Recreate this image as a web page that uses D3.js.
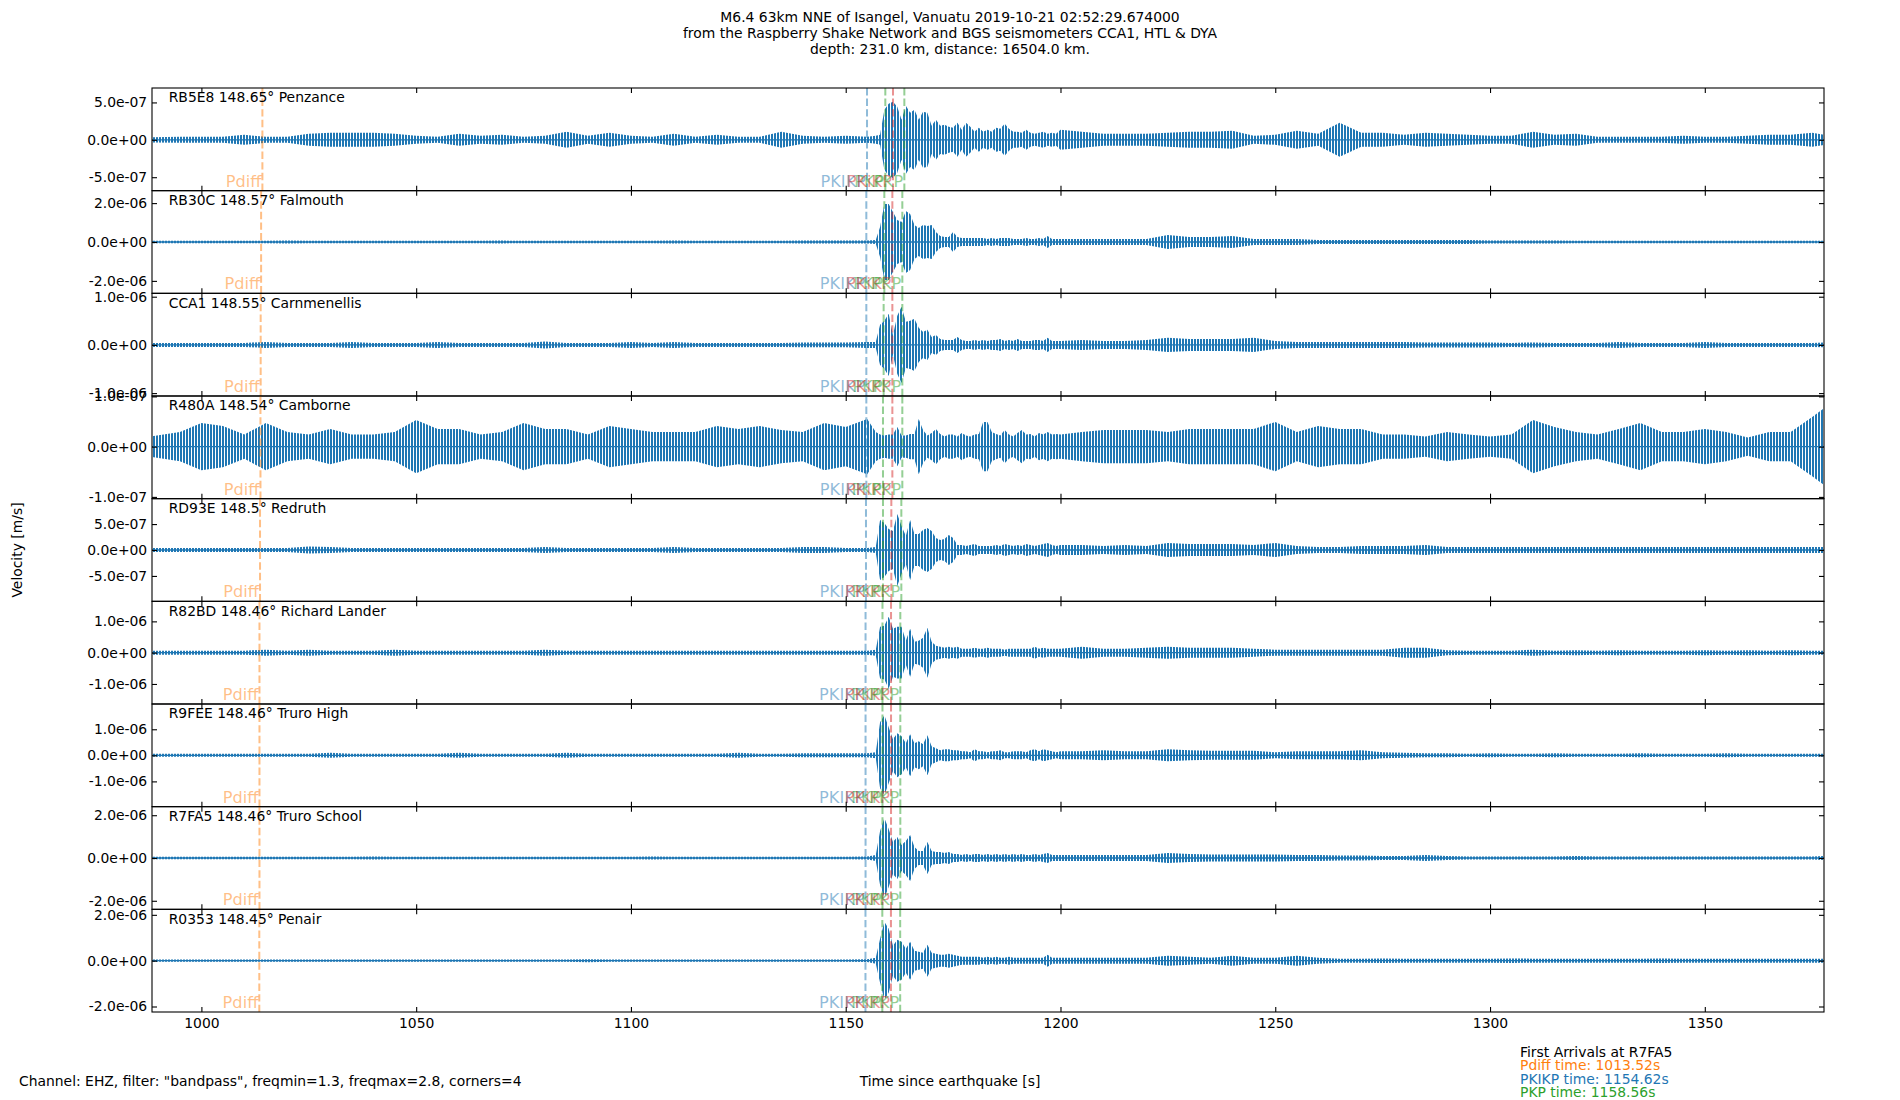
<!DOCTYPE html>
<html lang="en">
<head>
<meta charset="UTF-8">
<title>Seismograms - M6.4 Vanuatu</title>
<script src="https://d3js.org/d3.v7.min.js"></script>
<style>
  body { margin: 0; background: #fff; }
  svg text { font-family: "DejaVu Sans", sans-serif; }
</style>
</head>
<body>
<svg id="chart" width="1900" height="1100"></svg>
<script>
// ---- data ----
const titleLines = [
  "M6.4 63km NNE of Isangel, Vanuatu 2019-10-21 02:52:29.674000",
  "from the Raspberry Shake Network and BGS seismometers CCA1, HTL & DYA",
  "depth: 231.0 km, distance: 16504.0 km."
];
const stationIds = ["RB5E8", "RB30C", "CCA1", "R480A", "RD93E", "R82BD", "R9FEE", "R7FA5", "R0353"];
const stationDist = [148.65, 148.57, 148.55, 148.54, 148.5, 148.46, 148.46, 148.46, 148.45];
const stationPlace = ["Penzance", "Falmouth", "Carnmenellis", "Camborne", "Redruth", "Richard Lander", "Truro High", "Truro School", "Penair"];

// y limits (m/s) and tick values per station
const yLimits = [
  [-6.8e-7, 6.93e-7], [-2.64e-6, 2.64e-6], [-1.06e-6, 1.07e-6], [-1.035e-7, 1.008e-7], [-9.9e-7, 9.9e-7],
  [-1.64e-6, 1.64e-6], [-1.97e-6, 1.97e-6], [-2.4e-6, 2.4e-6], [-2.24e-6, 2.24e-6]
];
const yTickValues = [
  [-5e-7, 0, 5e-7], [-2e-6, 0, 2e-6], [-1e-6, 0, 1e-6], [-1e-7, 0, 1e-7], [-5e-7, 0, 5e-7],
  [-1e-6, 0, 1e-6], [-1e-6, 0, 1e-6], [-2e-6, 0, 2e-6], [-2e-6, 0, 2e-6]
];
const timeRange = [988.5, 1377.75];
const timeTicks = [1000, 1050, 1100, 1150, 1200, 1250, 1300, 1350];

// predicted arrivals (s) per station
const phaseNames = ["Pdiff", "PKIKP", "PKP", "PKiKP", "PKP"];
const phaseColors = ["#ff7f0e", "#1f77b4", "#2ca02c", "#d62728", "#2ca02c"];
const arrPdiff = [1014.2, 1013.9, 1013.8, 1013.75, 1013.65, 1013.52, 1013.52, 1013.52, 1013.48];
const arrPKIKP = [1154.96, 1154.8, 1154.8, 1154.8, 1154.72, 1154.62, 1154.62, 1154.62, 1154.6];
const arrPKP = [1159.22, 1158.99, 1158.83, 1158.68, 1158.68, 1158.56, 1158.56, 1158.56, 1158.52];
const arrPKiKP = [1161.01, 1160.86, 1160.86, 1160.86, 1160.62, 1160.55, 1160.55, 1160.55, 1160.53];
const arrPKP2 = [1163.65, 1163.18, 1163.18, 1163.18, 1162.95, 1162.71, 1162.71, 1162.71, 1162.68];

const firstArrivalStation = "R7FA5";
const firstArrivalPhases = ["Pdiff", "PKIKP", "PKP"];
const firstArrivalTimes = [1013.52, 1154.62, 1158.56];
const firstArrivalColors = ["#ff7f0e", "#1f77b4", "#2ca02c"];

const footerText = 'Channel: EHZ, filter: "bandpass", freqmin=1.3, freqmax=2.8, corners=4';

// trace envelopes: half peak-to-peak amplitude in nm/s at these times (s)
const envTimes = [
  988, 995, 1000, 1005, 1010, 1015, 1020, 1025, 1030, 1035, 1040, 1045, 1050, 1055, 1060, 1065, 1070,
  1075, 1080, 1085, 1090, 1095, 1100, 1105, 1110, 1115, 1120, 1125, 1130, 1135, 1140, 1145, 1150, 1155,
  1157, 1158, 1159, 1160, 1161, 1162, 1163, 1164, 1165, 1166, 1167, 1168, 1169, 1170, 1171, 1172, 1173,
  1174, 1175, 1176, 1177, 1178, 1179, 1180, 1181, 1182, 1183, 1184, 1185, 1186, 1187, 1188, 1189, 1190,
  1191, 1192, 1193, 1194, 1195, 1196, 1197, 1198, 1199, 1200,
  1205, 1210, 1215, 1220, 1225, 1230, 1235, 1240, 1245, 1250, 1255, 1260, 1265, 1270, 1275, 1280, 1285,
  1290, 1295, 1300, 1305, 1310, 1315, 1320, 1325, 1330, 1335, 1340, 1345, 1350, 1355, 1360, 1365, 1370,
  1375, 1378
];
const envRB5E8 = [
  34, 40, 40, 40, 67, 40, 40, 80, 94, 94, 94, 80, 54, 40, 80, 54, 67, 40, 54, 107, 54, 94, 54, 40, 80, 40, 67, 40, 40, 107, 54, 40, 54, 40,
  54, 67, 402, 482, 509, 442, 268, 456, 362, 402, 268, 375, 362, 188, 268, 188, 201, 174, 161, 228, 134, 228, 174, 107, 161, 107, 134, 107,
  161, 147, 214, 147, 107, 107, 94, 134, 94, 80, 94, 107, 80, 94, 80, 134,
  107, 80, 80, 80, 94, 107, 107, 121, 54, 67, 121, 80, 228, 94, 94, 67, 94, 80, 67, 54, 54, 107, 67, 80, 40, 40, 40, 40, 54, 40, 40, 54, 67, 67, 94, 67
];
const envRB30C = [
  62, 62, 62, 62, 62, 62, 72, 62, 62, 62, 62, 62, 62, 62, 62, 62, 72, 62, 62, 62, 62, 62, 62, 62, 72, 62, 62, 62, 62, 62, 77, 77, 77, 77,
  103, 771, 1953, 1953, 1542, 1131, 1028, 1593, 1439, 874, 720, 874, 822, 874, 514, 308, 257, 257, 514, 257, 206, 206, 206, 206, 206, 206,
  154, 206, 154, 206, 206, 206, 154, 154, 154, 206, 154, 154, 206, 154, 308, 154, 154, 154,
  154, 154, 154, 154, 360, 257, 257, 308, 154, 154, 154, 103, 103, 103, 103, 103, 103, 103, 103, 77, 77, 77, 77, 62, 62, 62, 62, 62, 62, 62, 62, 62, 62, 62, 62, 62
];
const envCCA1 = [
  42, 42, 42, 42, 42, 62, 42, 42, 42, 62, 42, 42, 42, 62, 42, 42, 42, 42, 73, 42, 42, 42, 62, 42, 62, 42, 42, 42, 42, 42, 48, 48, 48, 62,
  62, 416, 499, 645, 208, 603, 790, 478, 499, 541, 354, 270, 312, 166, 208, 125, 104, 104, 104, 166, 104, 83, 83, 104, 83, 104, 83, 104,
  104, 125, 83, 104, 83, 125, 83, 83, 83, 104, 104, 83, 146, 83, 83, 83,
  104, 83, 83, 104, 146, 125, 125, 125, 146, 83, 62, 62, 62, 62, 62, 62, 52, 52, 52, 52, 42, 52, 42, 42, 42, 62, 42, 42, 42, 62, 42, 42, 42, 42, 42, 52
];
const envR480A = [
  20, 29, 47, 41, 24, 47, 29, 24, 35, 24, 24, 29, 53, 35, 35, 24, 29, 47, 35, 35, 24, 41, 35, 29, 29, 29, 41, 35, 41, 33, 29, 47, 39, 55,
  29, 24, 22, 24, 24, 39, 22, 22, 25, 25, 55, 33, 22, 27, 35, 25, 20, 24, 24, 20, 27, 22, 20, 24, 25, 49, 49, 29, 25, 22, 33, 24, 20, 27,
  33, 24, 25, 20, 27, 24, 29, 24, 25, 24,
  29, 33, 33, 33, 29, 35, 35, 35, 35, 49, 29, 41, 35, 35, 24, 24, 20, 29, 24, 20, 24, 53, 39, 29, 24, 35, 47, 29, 29, 35, 29, 18, 29, 29, 59, 78
];
const envRD93E = [
  39, 39, 39, 39, 39, 39, 39, 68, 58, 39, 39, 39, 39, 39, 39, 39, 39, 39, 58, 39, 39, 39, 39, 39, 58, 39, 39, 39, 39, 39, 58, 58, 39, 39,
  58, 579, 521, 405, 367, 695, 463, 270, 579, 309, 309, 386, 425, 367, 232, 193, 212, 290, 232, 97, 97, 77, 97, 116, 77, 77, 77, 77,
  97, 77, 116, 97, 77, 97, 77, 116, 97, 77, 97, 116, 135, 97, 77, 97,
  97, 77, 97, 77, 135, 116, 116, 116, 97, 135, 77, 58, 58, 77, 77, 77, 97, 58, 58, 58, 58, 58, 58, 58, 58, 58, 58, 58, 58, 58, 58, 58, 58, 58, 58, 58
];
const envR82BD = [
  64, 64, 64, 64, 64, 96, 64, 96, 64, 64, 64, 96, 64, 64, 64, 64, 64, 64, 96, 64, 64, 64, 64, 64, 64, 64, 64, 64, 64, 64, 64, 64, 64, 64,
  96, 829, 861, 1148, 766, 829, 829, 383, 766, 351, 383, 479, 798, 351, 223, 191, 160, 191, 160, 191, 128, 128, 128, 160, 128, 128, 160, 128,
  128, 128, 96, 128, 128, 128, 128, 128, 128, 191, 128, 160, 128, 128, 128, 128,
  191, 128, 128, 160, 191, 160, 160, 160, 128, 96, 96, 96, 96, 96, 96, 160, 160, 80, 64, 64, 64, 96, 64, 80, 64, 80, 64, 64, 64, 80, 64, 80, 64, 80, 64, 64
];
const envR9FEE = [
  58, 58, 58, 58, 58, 58, 58, 58, 96, 58, 58, 58, 58, 58, 96, 58, 58, 58, 58, 96, 58, 58, 58, 58, 58, 58, 58, 96, 58, 58, 77, 77, 77, 77,
  115, 1267, 1536, 1075, 614, 845, 730, 461, 806, 461, 538, 422, 768, 346, 269, 192, 230, 230, 192, 192, 154, 154, 115, 230, 154, 154, 115, 154,
  154, 192, 115, 115, 154, 154, 154, 115, 192, 230, 154, 230, 192, 154, 115, 154,
  154, 192, 154, 154, 230, 192, 173, 173, 173, 115, 154, 154, 154, 192, 115, 96, 77, 77, 58, 77, 58, 58, 77, 58, 58, 58, 77, 58, 58, 58, 77, 58, 58, 58, 58, 58
];
const envR7FA5 = [
  56, 56, 56, 56, 56, 56, 56, 56, 56, 56, 75, 56, 56, 56, 56, 56, 56, 56, 56, 56, 56, 56, 56, 75, 56, 56, 56, 56, 56, 56, 56, 56, 56, 65,
  140, 1261, 1868, 1354, 747, 981, 607, 794, 1074, 514, 327, 327, 747, 327, 280, 280, 234, 280, 187, 187, 140, 187, 140, 187, 187, 140, 187, 140,
  187, 140, 187, 140, 187, 140, 187, 140, 140, 187, 140, 187, 234, 140, 140, 140,
  140, 140, 140, 140, 234, 187, 163, 163, 163, 163, 140, 140, 117, 117, 93, 93, 140, 93, 70, 70, 75, 70, 70, 93, 70, 70, 70, 75, 70, 70, 70, 70, 75, 70, 70, 93
];
const envR0353 = [
  52, 52, 52, 52, 52, 52, 52, 52, 52, 52, 52, 52, 52, 52, 52, 52, 52, 52, 52, 52, 65, 52, 52, 52, 52, 52, 52, 52, 52, 52, 52, 52, 52, 60,
  131, 959, 1700, 1395, 654, 916, 828, 523, 828, 436, 392, 349, 698, 349, 305, 262, 262, 305, 262, 218, 174, 174, 174, 174, 174, 131, 174, 131,
  174, 131, 131, 174, 131, 131, 131, 131, 131, 131, 131, 131, 262, 131, 131, 131,
  131, 131, 131, 131, 218, 174, 131, 218, 131, 131, 218, 131, 87, 87, 100, 87, 87, 87, 87, 87, 100, 87, 87, 87, 87, 87, 87, 100, 87, 87, 87, 87, 87, 87, 87, 87
];
const envelopes = [envRB5E8, envRB30C, envCCA1, envR480A, envRD93E, envR82BD, envR9FEE, envR7FA5, envR0353];
const phaseArrivals = [arrPdiff, arrPKIKP, arrPKP, arrPKiKP, arrPKP2];

// ---- layout ----
const W = 1900, H = 1100;
const plotLeft = 152, plotRight = 1824, plotTop = 88, plotBottom = 1012;
const traceColor = "#1f77b4";
const fontSize = 13.9;
const panelH = (plotBottom - plotTop) / stationIds.length;
const nm = 1e-9;

const svg = d3.select("#chart");

// dense oscillation look: vertical strokes filling the envelope
const pat = svg.append("defs").append("pattern")
  .attr("id", "wiggle")
  .attr("patternUnits", "userSpaceOnUse")
  .attr("width", 3).attr("height", 20);
pat.append("rect").attr("width", 2).attr("height", 20).attr("fill", traceColor);

// matplotlib style "%.1e"
function sciFormat(v) {
  const parts = v.toExponential(1).split("e");
  const e = +parts[1];
  return parts[0] + "e" + (e < 0 ? "-" : "+") + String(Math.abs(e)).padStart(2, "0");
}

const x = d3.scaleLinear().domain(timeRange).range([plotLeft, plotRight]);

// title
svg.append("g").selectAll("text")
  .data(titleLines)
  .join("text")
  .attr("x", W / 2)
  .attr("y", (d, i) => 22 + i * 16)
  .attr("text-anchor", "middle")
  .attr("font-size", fontSize)
  .text(d => d);

stationIds.forEach((id, i) => {
  const py = plotTop + i * panelH;
  const y = d3.scaleLinear().domain(yLimits[i]).range([py + panelH, py]);
  const g = svg.append("g").attr("class", "panel");

  if (envelopes[i].length !== envTimes.length) console.error("length mismatch", id);

  svg.append("clipPath").attr("id", "clip" + i)
    .append("rect")
    .attr("x", plotLeft).attr("y", py)
    .attr("width", plotRight - plotLeft).attr("height", panelH);

  const rows = envTimes.map((t, k) => ({ t: t, a: envelopes[i][k] * nm }));
  const area = d3.area()
    .x(d => x(d.t))
    .y0(d => y(-d.a))
    .y1(d => y(d.a));
  const baseline = d3.line()
    .x(d => x(d.t))
    .y(() => y(0));

  const trace = g.append("g").attr("clip-path", "url(#clip" + i + ")");
  trace.append("path")
    .datum(rows)
    .attr("d", area)
    .attr("fill", "url(#wiggle)");
  trace.append("path")
    .datum(rows)
    .attr("d", baseline)
    .attr("fill", "none")
    .attr("stroke", traceColor)
    .attr("stroke-width", 1.3);

  // arrival lines + labels
  phaseArrivals.forEach((arr, p) => {
    const px = x(arr[i]);
    g.append("line")
      .attr("x1", px).attr("x2", px)
      .attr("y1", py).attr("y2", py + panelH)
      .attr("stroke", phaseColors[p])
      .attr("stroke-opacity", 0.5)
      .attr("stroke-width", 2)
      .attr("stroke-dasharray", "7.4,3.2");
    g.append("text")
      .attr("x", px - 1)
      .attr("y", py + panelH - 4)
      .attr("text-anchor", "end")
      .attr("font-size", 16.2)
      .attr("fill", phaseColors[p])
      .attr("fill-opacity", 0.5)
      .text(phaseNames[p]);
  });

  // station label
  g.append("text")
    .attr("x", plotLeft + 0.01 * (plotRight - plotLeft))
    .attr("y", py + 14.4)
    .attr("font-size", fontSize)
    .text(id + " " + stationDist[i] + "\u00b0 " + stationPlace[i]);

  // axes (ticks pointing inward)
  const yLeft = g.append("g")
    .attr("transform", "translate(" + plotLeft + ",0)")
    .call(d3.axisLeft(y).tickValues(yTickValues[i]).tickSizeInner(-5).tickSizeOuter(0)
      .tickPadding(4.8).tickFormat(sciFormat));
  const yRight = g.append("g")
    .attr("transform", "translate(" + plotRight + ",0)")
    .call(d3.axisRight(y).tickValues(yTickValues[i]).tickSizeInner(-5).tickSizeOuter(0).tickFormat(""));
  const xTop = g.append("g")
    .attr("transform", "translate(0," + py + ")")
    .call(d3.axisTop(x).tickValues(timeTicks).tickSizeInner(-5).tickSizeOuter(0).tickFormat(""));
  const xBottom = g.append("g")
    .attr("transform", "translate(0," + (py + panelH) + ")")
    .call(d3.axisBottom(x).tickValues(timeTicks).tickSizeInner(-5).tickSizeOuter(0)
      .tickPadding(6.5).tickFormat(i === stationIds.length - 1 ? d3.format("d") : ""));

  [yLeft, yRight, xTop, xBottom].forEach(a => {
    a.select(".domain").remove();
    a.attr("font-size", fontSize).attr("font-family", "DejaVu Sans");
    a.selectAll(".tick line").attr("stroke-width", 1.1);
  });

  // frame
  g.append("rect")
    .attr("x", plotLeft).attr("y", py)
    .attr("width", plotRight - plotLeft).attr("height", panelH)
    .attr("fill", "none")
    .attr("stroke", "#000")
    .attr("stroke-width", 1.1);
});

// y label
svg.append("text")
  .attr("transform", "translate(17," + ((plotTop + plotBottom) / 2) + ") rotate(-90)")
  .attr("text-anchor", "middle")
  .attr("dominant-baseline", "central")
  .attr("font-size", fontSize)
  .text("Velocity [m/s]");

// x label and filter note
svg.append("text")
  .attr("x", W / 2).attr("y", 1086)
  .attr("text-anchor", "middle")
  .attr("font-size", fontSize)
  .text("Time since earthquake [s]");
svg.append("text")
  .attr("x", 19).attr("y", 1086)
  .attr("font-size", fontSize)
  .text(footerText);

// first arrivals note
const note = svg.append("g").attr("font-size", fontSize);
note.append("text")
  .attr("x", 1520).attr("y", 1056.5)
  .text("First Arrivals at " + firstArrivalStation);
note.selectAll("text.arr")
  .data(firstArrivalPhases)
  .join("text")
  .attr("class", "arr")
  .attr("x", 1520)
  .attr("y", (d, k) => 1070 + k * 13.6)
  .attr("fill", (d, k) => firstArrivalColors[k])
  .text((d, k) => d + " time: " + firstArrivalTimes[k].toFixed(2) + "s");
</script>
</body>
</html>
